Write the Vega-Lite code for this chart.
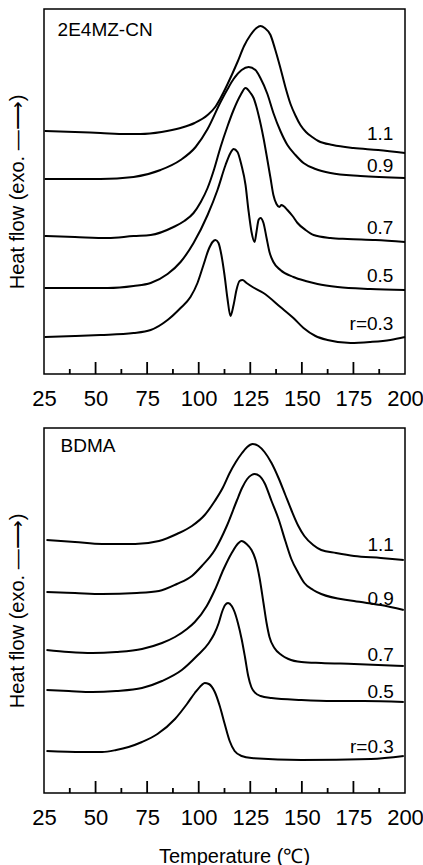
{
  "$schema": "https://vega.github.io/schema/vega-lite/v6.json",
  "padding": {"left": 6, "top": 8, "right": 0, "bottom": 0},
  "background": "white",
  "spacing": 17,
  "config": {
    "font": "Liberation Sans",
    "view": {"stroke": "black", "strokeWidth": 1.5},
    "axis": {"grid": false, "labelColor": "black", "titleColor": "black", "tickColor": "black", "domainColor": "black", "titleFontWeight": "normal"},
    "text": {"font": "Liberation Sans", "color": "black"}
  },
  "datasets": {
    "tickPositions": [
      {"T":50,"kind":"major"},{"T":75,"kind":"major"},{"T":100,"kind":"major"},{"T":125,"kind":"major"},{"T":150,"kind":"major"},{"T":175,"kind":"major"},
      {"T":37.5,"kind":"minor"},{"T":62.5,"kind":"minor"},{"T":87.5,"kind":"minor"},{"T":112.5,"kind":"minor"},{"T":137.5,"kind":"minor"},{"T":162.5,"kind":"minor"},{"T":187.5,"kind":"minor"}
    ],
    "top": [
      {"r":"1.1","T":25.3,"H":243},{"r":"1.1","T":40,"H":242},{"r":"1.1","T":52.4,"H":241},{"r":"1.1","T":65,"H":240},{"r":"1.1","T":71.8,"H":240},{"r":"1.1","T":82,"H":242},{"r":"1.1","T":91.2,"H":246},{"r":"1.1","T":98,"H":251},{"r":"1.1","T":104.3,"H":259},{"r":"1.1","T":108,"H":267},{"r":"1.1","T":110.6,"H":276},{"r":"1.1","T":114,"H":290},{"r":"1.1","T":118.8,"H":312},{"r":"1.1","T":122,"H":328},{"r":"1.1","T":125.1,"H":339},{"r":"1.1","T":128,"H":346},{"r":"1.1","T":129.9,"H":348},{"r":"1.1","T":132,"H":346},{"r":"1.1","T":134.8,"H":339},{"r":"1.1","T":137,"H":325},{"r":"1.1","T":139.6,"H":306},{"r":"1.1","T":142,"H":287},{"r":"1.1","T":144.5,"H":270},{"r":"1.1","T":147,"H":258},{"r":"1.1","T":149.3,"H":249},{"r":"1.1","T":152,"H":242},{"r":"1.1","T":155,"H":237},{"r":"1.1","T":158,"H":233},{"r":"1.1","T":165,"H":229},{"r":"1.1","T":175,"H":226},{"r":"1.1","T":187,"H":224},{"r":"1.1","T":200,"H":221},
      {"r":"0.9","T":25.3,"H":195},{"r":"0.9","T":40,"H":195},{"r":"0.9","T":52.4,"H":195},{"r":"0.9","T":68.4,"H":197},{"r":"0.9","T":81.5,"H":204},{"r":"0.9","T":91.2,"H":214},{"r":"0.9","T":98.5,"H":227},{"r":"0.9","T":104.3,"H":245},{"r":"0.9","T":110.6,"H":272},{"r":"0.9","T":114,"H":285},{"r":"0.9","T":116.9,"H":295},{"r":"0.9","T":120.8,"H":304},{"r":"0.9","T":124.2,"H":307},{"r":"0.9","T":127.5,"H":304},{"r":"0.9","T":129.9,"H":296},{"r":"0.9","T":133.3,"H":280},{"r":"0.9","T":136.2,"H":261},{"r":"0.9","T":139.6,"H":243},{"r":"0.9","T":143,"H":229},{"r":"0.9","T":146.9,"H":219},{"r":"0.9","T":150.8,"H":211},{"r":"0.9","T":156.6,"H":205},{"r":"0.9","T":163.9,"H":201},{"r":"0.9","T":178.4,"H":198},{"r":"0.9","T":200,"H":196},
      {"r":"0.7","T":25.3,"H":138},{"r":"0.7","T":40,"H":137},{"r":"0.7","T":55.9,"H":136},{"r":"0.7","T":68.4,"H":138},{"r":"0.7","T":76.7,"H":139},{"r":"0.7","T":87.8,"H":147},{"r":"0.7","T":93,"H":153},{"r":"0.7","T":97.5,"H":161},{"r":"0.7","T":101,"H":172},{"r":"0.7","T":104.3,"H":186},{"r":"0.7","T":107.5,"H":205},{"r":"0.7","T":110.6,"H":227},{"r":"0.7","T":114,"H":248},{"r":"0.7","T":116.9,"H":264},{"r":"0.7","T":120.3,"H":279},{"r":"0.7","T":122.7,"H":286},{"r":"0.7","T":125.1,"H":281},{"r":"0.7","T":126.6,"H":276},{"r":"0.7","T":129,"H":259},{"r":"0.7","T":131.4,"H":236},{"r":"0.7","T":133.3,"H":214},{"r":"0.7","T":134.8,"H":196},{"r":"0.7","T":136.2,"H":179},{"r":"0.7","T":137.7,"H":170},{"r":"0.7","T":139.1,"H":167},{"r":"0.7","T":140.1,"H":169},{"r":"0.7","T":141.1,"H":168},{"r":"0.7","T":143,"H":164},{"r":"0.7","T":145.5,"H":158},{"r":"0.7","T":147.9,"H":151},{"r":"0.7","T":151.8,"H":144},{"r":"0.7","T":155.7,"H":139},{"r":"0.7","T":163.9,"H":136},{"r":"0.7","T":172.1,"H":135},{"r":"0.7","T":185.7,"H":134},{"r":"0.7","T":200,"H":132},
      {"r":"0.5","T":25.3,"H":86},{"r":"0.5","T":40,"H":86},{"r":"0.5","T":55.9,"H":86},{"r":"0.5","T":68.4,"H":88},{"r":"0.5","T":76.7,"H":91},{"r":"0.5","T":84.9,"H":100},{"r":"0.5","T":91.2,"H":112},{"r":"0.5","T":97.5,"H":131},{"r":"0.5","T":104.3,"H":159},{"r":"0.5","T":109.1,"H":184},{"r":"0.5","T":113,"H":209},{"r":"0.5","T":115.4,"H":221},{"r":"0.5","T":116.9,"H":225},{"r":"0.5","T":118.8,"H":222},{"r":"0.5","T":120.7,"H":209},{"r":"0.5","T":122.7,"H":189},{"r":"0.5","T":124.1,"H":164},{"r":"0.5","T":125.6,"H":142},{"r":"0.5","T":127.1,"H":132},{"r":"0.5","T":128,"H":142},{"r":"0.5","T":129,"H":154},{"r":"0.5","T":129.9,"H":156},{"r":"0.5","T":131.4,"H":151},{"r":"0.5","T":132.9,"H":136},{"r":"0.5","T":134.3,"H":122},{"r":"0.5","T":136.2,"H":112},{"r":"0.5","T":139.6,"H":104},{"r":"0.5","T":145.9,"H":97},{"r":"0.5","T":151.8,"H":93},{"r":"0.5","T":157.6,"H":90},{"r":"0.5","T":167.3,"H":87},{"r":"0.5","T":183.2,"H":85},{"r":"0.5","T":200,"H":84},
      {"r":"0.3","T":25.3,"H":37},{"r":"0.3","T":40,"H":38},{"r":"0.3","T":52.4,"H":39},{"r":"0.3","T":68.4,"H":41},{"r":"0.3","T":76.7,"H":44},{"r":"0.3","T":84.9,"H":54},{"r":"0.3","T":91.2,"H":66},{"r":"0.3","T":96,"H":77},{"r":"0.3","T":99.4,"H":91},{"r":"0.3","T":102.3,"H":109},{"r":"0.3","T":104.7,"H":124},{"r":"0.3","T":106.7,"H":132},{"r":"0.3","T":108.1,"H":134},{"r":"0.3","T":109.6,"H":131},{"r":"0.3","T":111,"H":119},{"r":"0.3","T":112.5,"H":99},{"r":"0.3","T":113.9,"H":76},{"r":"0.3","T":115.4,"H":58},{"r":"0.3","T":116.9,"H":69},{"r":"0.3","T":118.3,"H":84},{"r":"0.3","T":119.8,"H":93},{"r":"0.3","T":121.2,"H":94},{"r":"0.3","T":123.2,"H":91},{"r":"0.3","T":126.1,"H":87},{"r":"0.3","T":131.4,"H":81},{"r":"0.3","T":139.6,"H":67},{"r":"0.3","T":145.9,"H":56},{"r":"0.3","T":150.8,"H":46},{"r":"0.3","T":156.6,"H":38},{"r":"0.3","T":162.4,"H":34},{"r":"0.3","T":173.6,"H":31},{"r":"0.3","T":183.2,"H":32},{"r":"0.3","T":192.9,"H":34},{"r":"0.3","T":200,"H":37}
    ],
    "bottom": [
      {"r":"1.1","T":26.2,"H":253},{"r":"1.1","T":40,"H":251},{"r":"1.1","T":53.2,"H":249},{"r":"1.1","T":69.2,"H":249},{"r":"1.1","T":80.7,"H":252},{"r":"1.1","T":89.4,"H":259},{"r":"1.1","T":96.7,"H":267},{"r":"1.1","T":102.9,"H":278},{"r":"1.1","T":107.8,"H":292},{"r":"1.1","T":111.6,"H":305},{"r":"1.1","T":115,"H":320},{"r":"1.1","T":118,"H":331},{"r":"1.1","T":121,"H":340},{"r":"1.1","T":123.5,"H":346},{"r":"1.1","T":126.1,"H":349},{"r":"1.1","T":129,"H":347},{"r":"1.1","T":131.9,"H":341},{"r":"1.1","T":135.3,"H":330},{"r":"1.1","T":138.7,"H":315},{"r":"1.1","T":142,"H":298},{"r":"1.1","T":144.9,"H":283},{"r":"1.1","T":148.3,"H":267},{"r":"1.1","T":151.2,"H":257},{"r":"1.1","T":155.5,"H":248},{"r":"1.1","T":159.4,"H":243},{"r":"1.1","T":166.6,"H":240},{"r":"1.1","T":175.3,"H":237},{"r":"1.1","T":188.3,"H":235},{"r":"1.1","T":199.4,"H":233},
      {"r":"0.9","T":26.2,"H":201},{"r":"0.9","T":40,"H":200},{"r":"0.9","T":53.2,"H":199},{"r":"0.9","T":70,"H":200},{"r":"0.9","T":80.7,"H":202},{"r":"0.9","T":89.4,"H":209},{"r":"0.9","T":96.7,"H":217},{"r":"0.9","T":101.5,"H":227},{"r":"0.9","T":107.8,"H":243},{"r":"0.9","T":113.6,"H":267},{"r":"0.9","T":118.4,"H":292},{"r":"0.9","T":121,"H":305},{"r":"0.9","T":123.5,"H":314},{"r":"0.9","T":125.6,"H":318},{"r":"0.9","T":127.1,"H":319},{"r":"0.9","T":129.5,"H":317},{"r":"0.9","T":131.9,"H":310},{"r":"0.9","T":135.3,"H":292},{"r":"0.9","T":138.7,"H":274},{"r":"0.9","T":142,"H":252},{"r":"0.9","T":144.9,"H":234},{"r":"0.9","T":148.3,"H":220},{"r":"0.9","T":151.2,"H":210},{"r":"0.9","T":155.5,"H":203},{"r":"0.9","T":159.4,"H":199},{"r":"0.9","T":175.3,"H":192},{"r":"0.9","T":188.3,"H":188},{"r":"0.9","T":199.4,"H":183},
      {"r":"0.7","T":26.2,"H":143},{"r":"0.7","T":37,"H":141},{"r":"0.7","T":48.4,"H":140},{"r":"0.7","T":60,"H":141},{"r":"0.7","T":72.5,"H":144},{"r":"0.7","T":82.2,"H":150},{"r":"0.7","T":88.5,"H":156},{"r":"0.7","T":94.3,"H":164},{"r":"0.7","T":98.1,"H":171},{"r":"0.7","T":103.9,"H":187},{"r":"0.7","T":107.8,"H":203},{"r":"0.7","T":112.1,"H":224},{"r":"0.7","T":116,"H":240},{"r":"0.7","T":119.3,"H":250},{"r":"0.7","T":120.8,"H":252},{"r":"0.7","T":123.2,"H":249},{"r":"0.7","T":125.6,"H":243},{"r":"0.7","T":127.6,"H":233},{"r":"0.7","T":129.5,"H":215},{"r":"0.7","T":131.4,"H":190},{"r":"0.7","T":132.9,"H":170},{"r":"0.7","T":134.3,"H":156},{"r":"0.7","T":136.7,"H":145},{"r":"0.7","T":140.1,"H":138},{"r":"0.7","T":143.5,"H":134},{"r":"0.7","T":149.8,"H":131},{"r":"0.7","T":159.4,"H":130},{"r":"0.7","T":175.3,"H":129},{"r":"0.7","T":199.4,"H":127},
      {"r":"0.5","T":26.2,"H":103},{"r":"0.5","T":37,"H":102},{"r":"0.5","T":48.4,"H":101},{"r":"0.5","T":60,"H":102},{"r":"0.5","T":72.5,"H":105},{"r":"0.5","T":82.2,"H":112},{"r":"0.5","T":91.8,"H":123},{"r":"0.5","T":99.1,"H":137},{"r":"0.5","T":104.9,"H":150},{"r":"0.5","T":107.5,"H":159},{"r":"0.5","T":109.7,"H":170},{"r":"0.5","T":111.3,"H":181},{"r":"0.5","T":112.8,"H":188},{"r":"0.5","T":114.2,"H":190},{"r":"0.5","T":116,"H":187},{"r":"0.5","T":117.4,"H":181},{"r":"0.5","T":119,"H":170},{"r":"0.5","T":120.8,"H":154},{"r":"0.5","T":122.5,"H":135},{"r":"0.5","T":124,"H":117},{"r":"0.5","T":125.5,"H":106},{"r":"0.5","T":127,"H":101},{"r":"0.5","T":130,"H":97},{"r":"0.5","T":135.3,"H":95},{"r":"0.5","T":149.8,"H":93},{"r":"0.5","T":165,"H":92},{"r":"0.5","T":180,"H":92},{"r":"0.5","T":199.4,"H":91},
      {"r":"0.3","T":26.2,"H":42},{"r":"0.3","T":43.6,"H":41},{"r":"0.3","T":53.2,"H":41},{"r":"0.3","T":60,"H":43},{"r":"0.3","T":66,"H":46},{"r":"0.3","T":72.5,"H":51},{"r":"0.3","T":80,"H":59},{"r":"0.3","T":88.5,"H":74},{"r":"0.3","T":94.3,"H":89},{"r":"0.3","T":98.1,"H":100},{"r":"0.3","T":101.5,"H":108},{"r":"0.3","T":102.9,"H":110},{"r":"0.3","T":104.9,"H":109},{"r":"0.3","T":107.8,"H":101},{"r":"0.3","T":110.2,"H":87},{"r":"0.3","T":112.6,"H":69},{"r":"0.3","T":115,"H":52},{"r":"0.3","T":117.4,"H":42},{"r":"0.3","T":120.8,"H":37},{"r":"0.3","T":125.6,"H":35},{"r":"0.3","T":149.8,"H":33},{"r":"0.3","T":183.5,"H":34},{"r":"0.3","T":199.4,"H":37}
    ],
    "topLabels": [
      {"T":194.4,"H":240,"label":"1.1"},{"T":194.4,"H":208,"label":"0.9"},{"T":194.4,"H":146,"label":"0.7"},{"T":194.4,"H":98,"label":"0.5"},{"T":194.4,"H":50,"label":"r=0.3"},{"T":31.6,"H":344,"label":"2E4MZ-CN","kind":"name"}
    ],
    "bottomLabels": [
      {"T":194.6,"H":248,"label":"1.1"},{"T":194.6,"H":194,"label":"0.9"},{"T":194.6,"H":138,"label":"0.7"},{"T":194.6,"H":101,"label":"0.5"},{"T":194.6,"H":46,"label":"r=0.3"},{"T":33,"H":347,"label":"BDMA","kind":"name"}
    ]
  },
  "vconcat": [
    {
      "width": 361, "height": 365,
      "encoding": {
        "x": {"field": "T", "type": "quantitative", "scale": {"domain": [25, 200], "nice": false, "zero": false},
              "axis": {"orient": "bottom", "values": [25,50,75,100,125,150,175,200], "domain": false, "ticks": false, "labelPadding": 14, "labelFontSize": 22, "labelFlush": false, "title": null}},
        "y": {"field": "H", "type": "quantitative", "scale": {"domain": [0, 365], "nice": false, "zero": false},
              "axis": {"title": "Heat flow (exo. —⟶)", "labels": false, "ticks": false, "domain": false, "titleFontSize": 20, "titlePadding": 17}}
      },
      "layer": [
        {
          "data": {"name": "top"},
          "mark": {"type": "line", "color": "black", "strokeWidth": 2, "interpolate": "monotone"},
          "encoding": {"detail": {"field": "r"}}
        },
        {
          "data": {"name": "topLabels"},
          "transform": [{"filter": "datum.kind !== 'name'"}],
          "mark": {"type": "text", "align": "right", "baseline": "middle", "fontSize": 19},
          "encoding": {"text": {"field": "label"}}
        },
        {
          "data": {"name": "topLabels"},
          "transform": [{"filter": "datum.kind === 'name'"}],
          "mark": {"type": "text", "align": "left", "baseline": "middle", "fontSize": 19},
          "encoding": {"text": {"field": "label"}}
        },
        {
          "data": {"name": "tickPositions"},
          "transform": [
            {"calculate": "0", "as": "base"},
            {"calculate": "datum.kind === 'major' ? 12 : 5", "as": "tip"},
            {"fold": ["base", "tip"], "as": ["end", "H"]}
          ],
          "mark": {"type": "line", "color": "black", "strokeWidth": 1.8},
          "encoding": {"detail": {"field": "T"}}
        }
      ]
    },
    {
      "width": 361, "height": 365,
      "encoding": {
        "x": {"field": "T", "type": "quantitative", "scale": {"domain": [25, 200], "nice": false, "zero": false},
              "axis": {"orient": "bottom", "values": [25,50,75,100,125,150,175,200], "domain": false, "ticks": false, "labelPadding": 14, "labelFontSize": 22, "labelFlush": false,
                       "title": "Temperature (℃)", "titleFontSize": 20, "titlePadding": 18, "titleX": 190}},
        "y": {"field": "H", "type": "quantitative", "scale": {"domain": [0, 365], "nice": false, "zero": false},
              "axis": {"title": "Heat flow (exo. —⟶)", "labels": false, "ticks": false, "domain": false, "titleFontSize": 20, "titlePadding": 17}}
      },
      "layer": [
        {
          "data": {"name": "bottom"},
          "mark": {"type": "line", "color": "black", "strokeWidth": 2, "interpolate": "monotone"},
          "encoding": {"detail": {"field": "r"}}
        },
        {
          "data": {"name": "bottomLabels"},
          "transform": [{"filter": "datum.kind !== 'name'"}],
          "mark": {"type": "text", "align": "right", "baseline": "middle", "fontSize": 19},
          "encoding": {"text": {"field": "label"}}
        },
        {
          "data": {"name": "bottomLabels"},
          "transform": [{"filter": "datum.kind === 'name'"}],
          "mark": {"type": "text", "align": "left", "baseline": "middle", "fontSize": 19},
          "encoding": {"text": {"field": "label"}}
        },
        {
          "data": {"name": "tickPositions"},
          "transform": [
            {"calculate": "0", "as": "base"},
            {"calculate": "datum.kind === 'major' ? 12 : 5", "as": "tip"},
            {"fold": ["base", "tip"], "as": ["end", "H"]}
          ],
          "mark": {"type": "line", "color": "black", "strokeWidth": 1.8},
          "encoding": {"detail": {"field": "T"}}
        }
      ]
    }
  ]
}
